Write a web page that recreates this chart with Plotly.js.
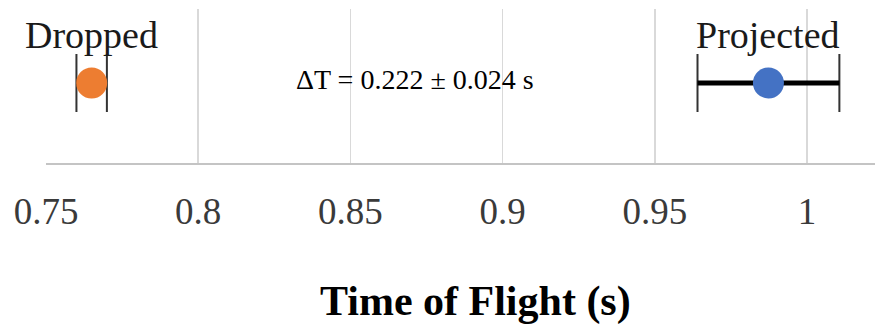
<!DOCTYPE html>
<html>
<head>
<meta charset="utf-8">
<script src="https://cdn.plot.ly/plotly-3.0.1.min.js"></script>
<style>html,body{margin:0;padding:0;background:#fff;}#chart{width:875px;height:325px;}</style>
</head>
<body>
<div id="chart"></div>
<script>
// Data
const labels = ["Dropped", "Projected"];
const times = [0.765, 0.9873];
const errors = [0.005, 0.0233];
const colors = ["#ED7D31", "#4472C4"];
const rowPos = [0.52, 0.52];
const tickVals = [0.75, 0.8, 0.85, 0.9, 0.95, 1];
const tickText = ["0.75", "0.8", "0.85", "0.9", "0.95", "1"];
const deltaText = "ΔT = 0.222 ± 0.024 s";
const deltaX = 0.8713;
const axisTitle = "Time of Flight (s)";

const serif = "'Liberation Serif', 'Times New Roman', serif";
const traces = [];
for (let i = 0; i < labels.length; i++) {
  // thin caps
  traces.push({
    type: "scatter", mode: "markers", x: [times[i]], y: [rowPos[i]],
    marker: {size: 1, color: "rgba(0,0,0,0)"},
    error_x: {type: "data", array: [errors[i]], visible: true, thickness: 2, width: 29, color: "#333"},
    hoverinfo: "skip", showlegend: false
  });
  // thick horizontal bar
  traces.push({
    type: "scatter", mode: "markers", x: [times[i]], y: [rowPos[i]],
    marker: {size: 1, color: "rgba(0,0,0,0)"},
    error_x: {type: "data", array: [errors[i]], visible: true, thickness: 5, width: 0, color: "#000"},
    hoverinfo: "skip", showlegend: false
  });
  traces.push({
    type: "scatter", mode: "markers", name: labels[i], x: [times[i]], y: [rowPos[i]],
    marker: {size: 31, color: colors[i]}, showlegend: false
  });
}

const annotations = labels.map((l, i) => ({
  text: l, x: times[i], xref: "x", y: 0.83, yref: "paper",
  showarrow: false, xanchor: "center", yanchor: "middle",
  font: {family: serif, size: 38, color: "#1a1a1a"}
}));
annotations.push({
  text: deltaText, x: deltaX, xref: "x", y: 0.545, yref: "paper",
  showarrow: false, xanchor: "center", yanchor: "middle",
  font: {family: serif, size: 28, color: "#000"}
});
annotations.push({
  text: "<b>" + axisTitle + "</b>", x: (475 - 46) / (875 - 46), xref: "paper", y: -0.90, yref: "paper",
  showarrow: false, xanchor: "center", yanchor: "middle",
  font: {family: serif, size: 42, color: "#000"}
});

const layout = {
  width: 875, height: 325,
  margin: {l: 46, r: 0, t: 9, b: 162, pad: 0},
  paper_bgcolor: "#fff", plot_bgcolor: "#fff",
  xaxis: {
    range: [0.75, 1.0223], tickvals: tickVals, ticktext: tickText,
    showgrid: true, gridcolor: "#d9d9d9", gridwidth: 1.5,
    zeroline: false, showline: true, linecolor: "#c4c4c4", linewidth: 2,
    ticks: "", ticklabelstandoff: 15,
    tickfont: {family: serif, size: 37, color: "#3a3a3a"}
  },
  yaxis: {range: [0, 1], visible: false, showgrid: false, zeroline: false, fixedrange: true},
  annotations: annotations,
  showlegend: false
};
Plotly.newPlot("chart", traces, layout, {staticPlot: true, displayModeBar: false});
</script>
</body>
</html>
